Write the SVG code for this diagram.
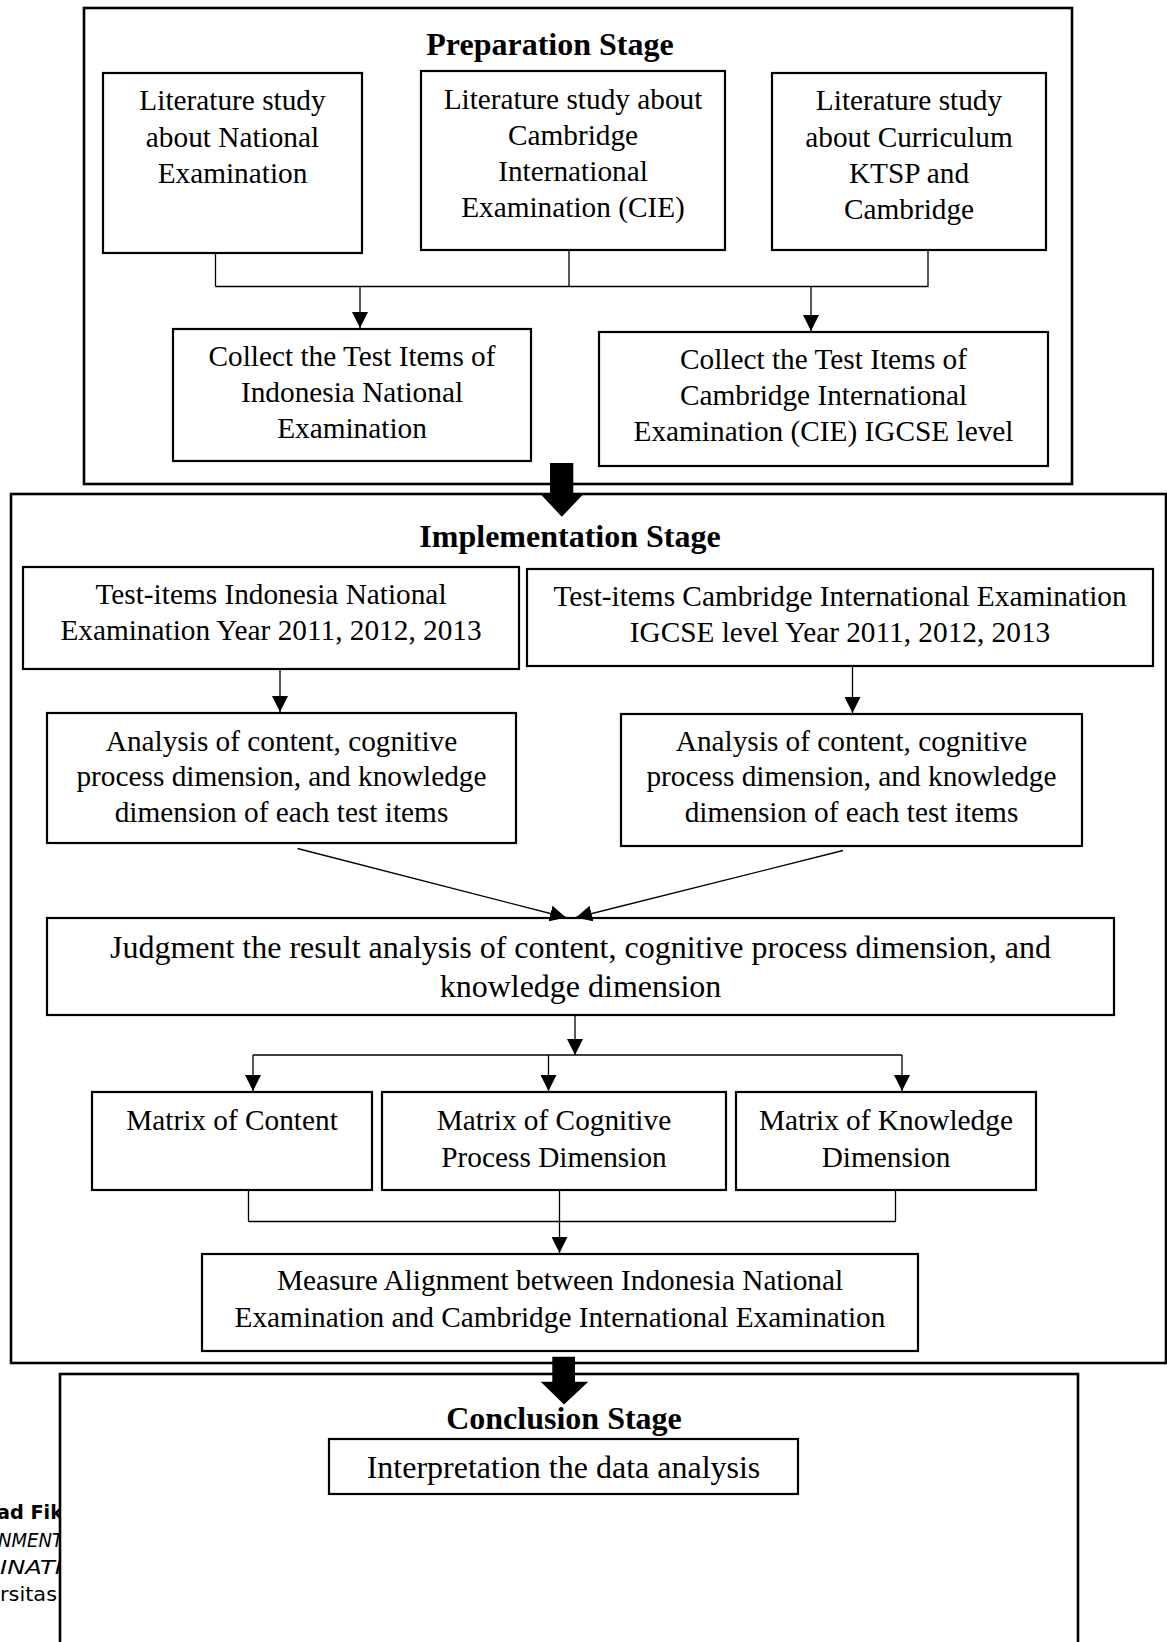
<svg xmlns="http://www.w3.org/2000/svg" width="1167" height="1642" viewBox="0 0 1167 1642">
<style>
.stage{fill:#fff;stroke:#000;stroke-width:2.6}
.box{fill:#fff;stroke:#000;stroke-width:2.2}
.t{font-family:"Liberation Serif","Times New Roman",serif;font-size:29.3px;fill:#000;text-anchor:middle}
.tb{font-family:"Liberation Serif","Times New Roman",serif;font-size:32px;font-weight:bold;fill:#000;text-anchor:middle}
.tl{font-family:"Liberation Serif","Times New Roman",serif;font-size:32px;fill:#000;text-anchor:middle}
.ln{fill:none;stroke:#000;stroke-width:1.3}
.big{fill:#000}
.ft{font-family:"DejaVu Sans",Verdana,sans-serif;font-size:19.5px;fill:#000}
</style>
<defs>
<marker id="ah" viewBox="0 0 16 16" refX="16" refY="8" markerWidth="16" markerHeight="16" markerUnits="userSpaceOnUse" orient="auto">
<path d="M0,0 L16,8 L0,16 z" fill="#000"/>
</marker>
<clipPath id="fclip"><rect x="0" y="1490" width="59" height="130"/></clipPath>
</defs>
<rect width="1167" height="1642" fill="#fff"/>

<g id="footer" clip-path="url(#fclip)">
<text class="ft" x="-3" y="1519" font-weight="bold" textLength="66" lengthAdjust="spacingAndGlyphs">ad Fik</text>
<text class="ft" x="-2" y="1546.7" font-style="italic" textLength="65" lengthAdjust="spacingAndGlyphs">NMENT</text>
<text class="ft" x="0" y="1574.3" font-style="italic" textLength="62" lengthAdjust="spacingAndGlyphs">INATI</text>
<text class="ft" x="0" y="1601" textLength="57" lengthAdjust="spacingAndGlyphs">rsitas</text>
</g>

<g id="preparation-stage">
<rect class="stage" x="84" y="8" width="988" height="476"/>
<text class="tb" x="550" y="55">Preparation Stage</text>
</g>
<g id="implementation-stage">
<rect class="stage" x="11" y="494" width="1155" height="869"/>
<text class="tb" x="570" y="547">Implementation Stage</text>
</g>
<g id="conclusion-stage">
<rect class="stage" x="60" y="1374" width="1018" height="300"/>
<text class="tb" x="564" y="1429">Conclusion Stage</text>
</g>

<g id="lit-national">
<rect class="box" x="103" y="73" width="259" height="180"/>
<text class="t" x="232.5" y="110">Literature study</text>
<text class="t" x="232.5" y="146.5">about National</text>
<text class="t" x="232.5" y="182.5">Examination</text>
</g>
<g id="lit-cie">
<rect class="box" x="421" y="71" width="304" height="179"/>
<text class="t" x="573" y="108.5">Literature study about</text>
<text class="t" x="573" y="144.5">Cambridge</text>
<text class="t" x="573" y="180.5">International</text>
<text class="t" x="573" y="216.5">Examination (CIE)</text>
</g>
<g id="lit-curriculum">
<rect class="box" x="772" y="73" width="274" height="177"/>
<text class="t" x="909" y="110">Literature study</text>
<text class="t" x="909" y="146.5">about Curriculum</text>
<text class="t" x="909" y="182.5">KTSP and</text>
<text class="t" x="909" y="218.5">Cambridge</text>
</g>
<g id="collect-national">
<rect class="box" x="173" y="329" width="358" height="132"/>
<text class="t" x="352" y="366">Collect the Test Items of</text>
<text class="t" x="352" y="402">Indonesia National</text>
<text class="t" x="352" y="438">Examination</text>
</g>
<g id="collect-cie">
<rect class="box" x="599" y="332" width="449" height="134"/>
<text class="t" x="823.5" y="368.5">Collect the Test Items of</text>
<text class="t" x="823.5" y="404.5">Cambridge International</text>
<text class="t" x="823.5" y="440.5">Examination (CIE) IGCSE level</text>
</g>

<g id="items-national">
<rect class="box" x="23" y="567" width="496" height="102"/>
<text class="t" x="271" y="604">Test-items Indonesia National</text>
<text class="t" x="271" y="639.5">Examination Year 2011, 2012, 2013</text>
</g>
<g id="items-cie">
<rect class="box" x="527" y="569" width="626" height="97"/>
<text class="t" x="840" y="606">Test-items Cambridge International Examination</text>
<text class="t" x="840" y="641.5">IGCSE level Year 2011, 2012, 2013</text>
</g>
<g id="analysis-national">
<rect class="box" x="47" y="713" width="469" height="130"/>
<text class="t" x="281.5" y="750.5">Analysis of content, cognitive</text>
<text class="t" x="281.5" y="786">process dimension, and knowledge</text>
<text class="t" x="281.5" y="821.5">dimension of each test items</text>
</g>
<g id="analysis-cie">
<rect class="box" x="621" y="714" width="461" height="132"/>
<text class="t" x="851.5" y="750.5">Analysis of content, cognitive</text>
<text class="t" x="851.5" y="786">process dimension, and knowledge</text>
<text class="t" x="851.5" y="821.5">dimension of each test items</text>
</g>
<g id="judgment">
<rect class="box" x="47" y="918" width="1067" height="97"/>
<text class="tl" x="580.5" y="957.5">Judgment the result analysis of content, cognitive process dimension, and</text>
<text class="tl" x="580.5" y="997">knowledge dimension</text>
</g>
<g id="matrix-content">
<rect class="box" x="92" y="1092" width="280" height="98"/>
<text class="t" x="232" y="1130">Matrix of Content</text>
</g>
<g id="matrix-cognitive">
<rect class="box" x="382" y="1092" width="344" height="98"/>
<text class="t" x="554" y="1130">Matrix of Cognitive</text>
<text class="t" x="554" y="1166.5">Process Dimension</text>
</g>
<g id="matrix-knowledge">
<rect class="box" x="736" y="1092" width="300" height="98"/>
<text class="t" x="886" y="1130">Matrix of Knowledge</text>
<text class="t" x="886" y="1166.5">Dimension</text>
</g>
<g id="measure-alignment">
<rect class="box" x="202" y="1254" width="716" height="97"/>
<text class="t" x="560" y="1290">Measure Alignment between Indonesia National</text>
<text class="t" x="560" y="1326.5">Examination and Cambridge International Examination</text>
</g>

<g id="interpretation">
<rect class="box" x="329" y="1439" width="469" height="55"/>
<text class="tl" x="563.5" y="1478">Interpretation the data analysis</text>
</g>

<g id="connectors">
<path class="ln" d="M215.5,253 V286.5 M569,250 V286.5 M928,250 V286.5 M215.5,286.5 H928.5"/>
<line class="ln" x1="360" y1="286.5" x2="360" y2="328" marker-end="url(#ah)"/>
<line class="ln" x1="811" y1="286.5" x2="811" y2="331" marker-end="url(#ah)"/>
<line class="ln" x1="280" y1="669" x2="280" y2="712" marker-end="url(#ah)"/>
<line class="ln" x1="852.5" y1="666" x2="852.5" y2="713" marker-end="url(#ah)"/>
<line class="ln" x1="297.5" y1="848.5" x2="566" y2="917.5" marker-end="url(#ah)"/>
<line class="ln" x1="843" y1="850.5" x2="576" y2="917.5" marker-end="url(#ah)"/>
<line class="ln" x1="575" y1="1015" x2="575" y2="1055" marker-end="url(#ah)"/>
<path class="ln" d="M253,1055 H902"/>
<line class="ln" x1="253" y1="1055" x2="253" y2="1091" marker-end="url(#ah)"/>
<line class="ln" x1="548.5" y1="1055" x2="548.5" y2="1091" marker-end="url(#ah)"/>
<line class="ln" x1="902" y1="1055" x2="902" y2="1091" marker-end="url(#ah)"/>
<path class="ln" d="M248.5,1190 V1221.5 M895.5,1190 V1221.5 M248.5,1221.5 H895.5"/>
<line class="ln" x1="559.5" y1="1190" x2="559.5" y2="1253" marker-end="url(#ah)"/>
<polygon class="big" points="550,463 573.3,463 573.3,494.3 583.3,494.3 561.8,516.7 540.7,494.3 550,494.3"/>
<polygon class="big" points="552.3,1356.7 575,1356.7 575,1381.7 588.3,1381.7 564,1404.5 540.7,1381.7 552.3,1381.7"/>
</g>
</svg>
